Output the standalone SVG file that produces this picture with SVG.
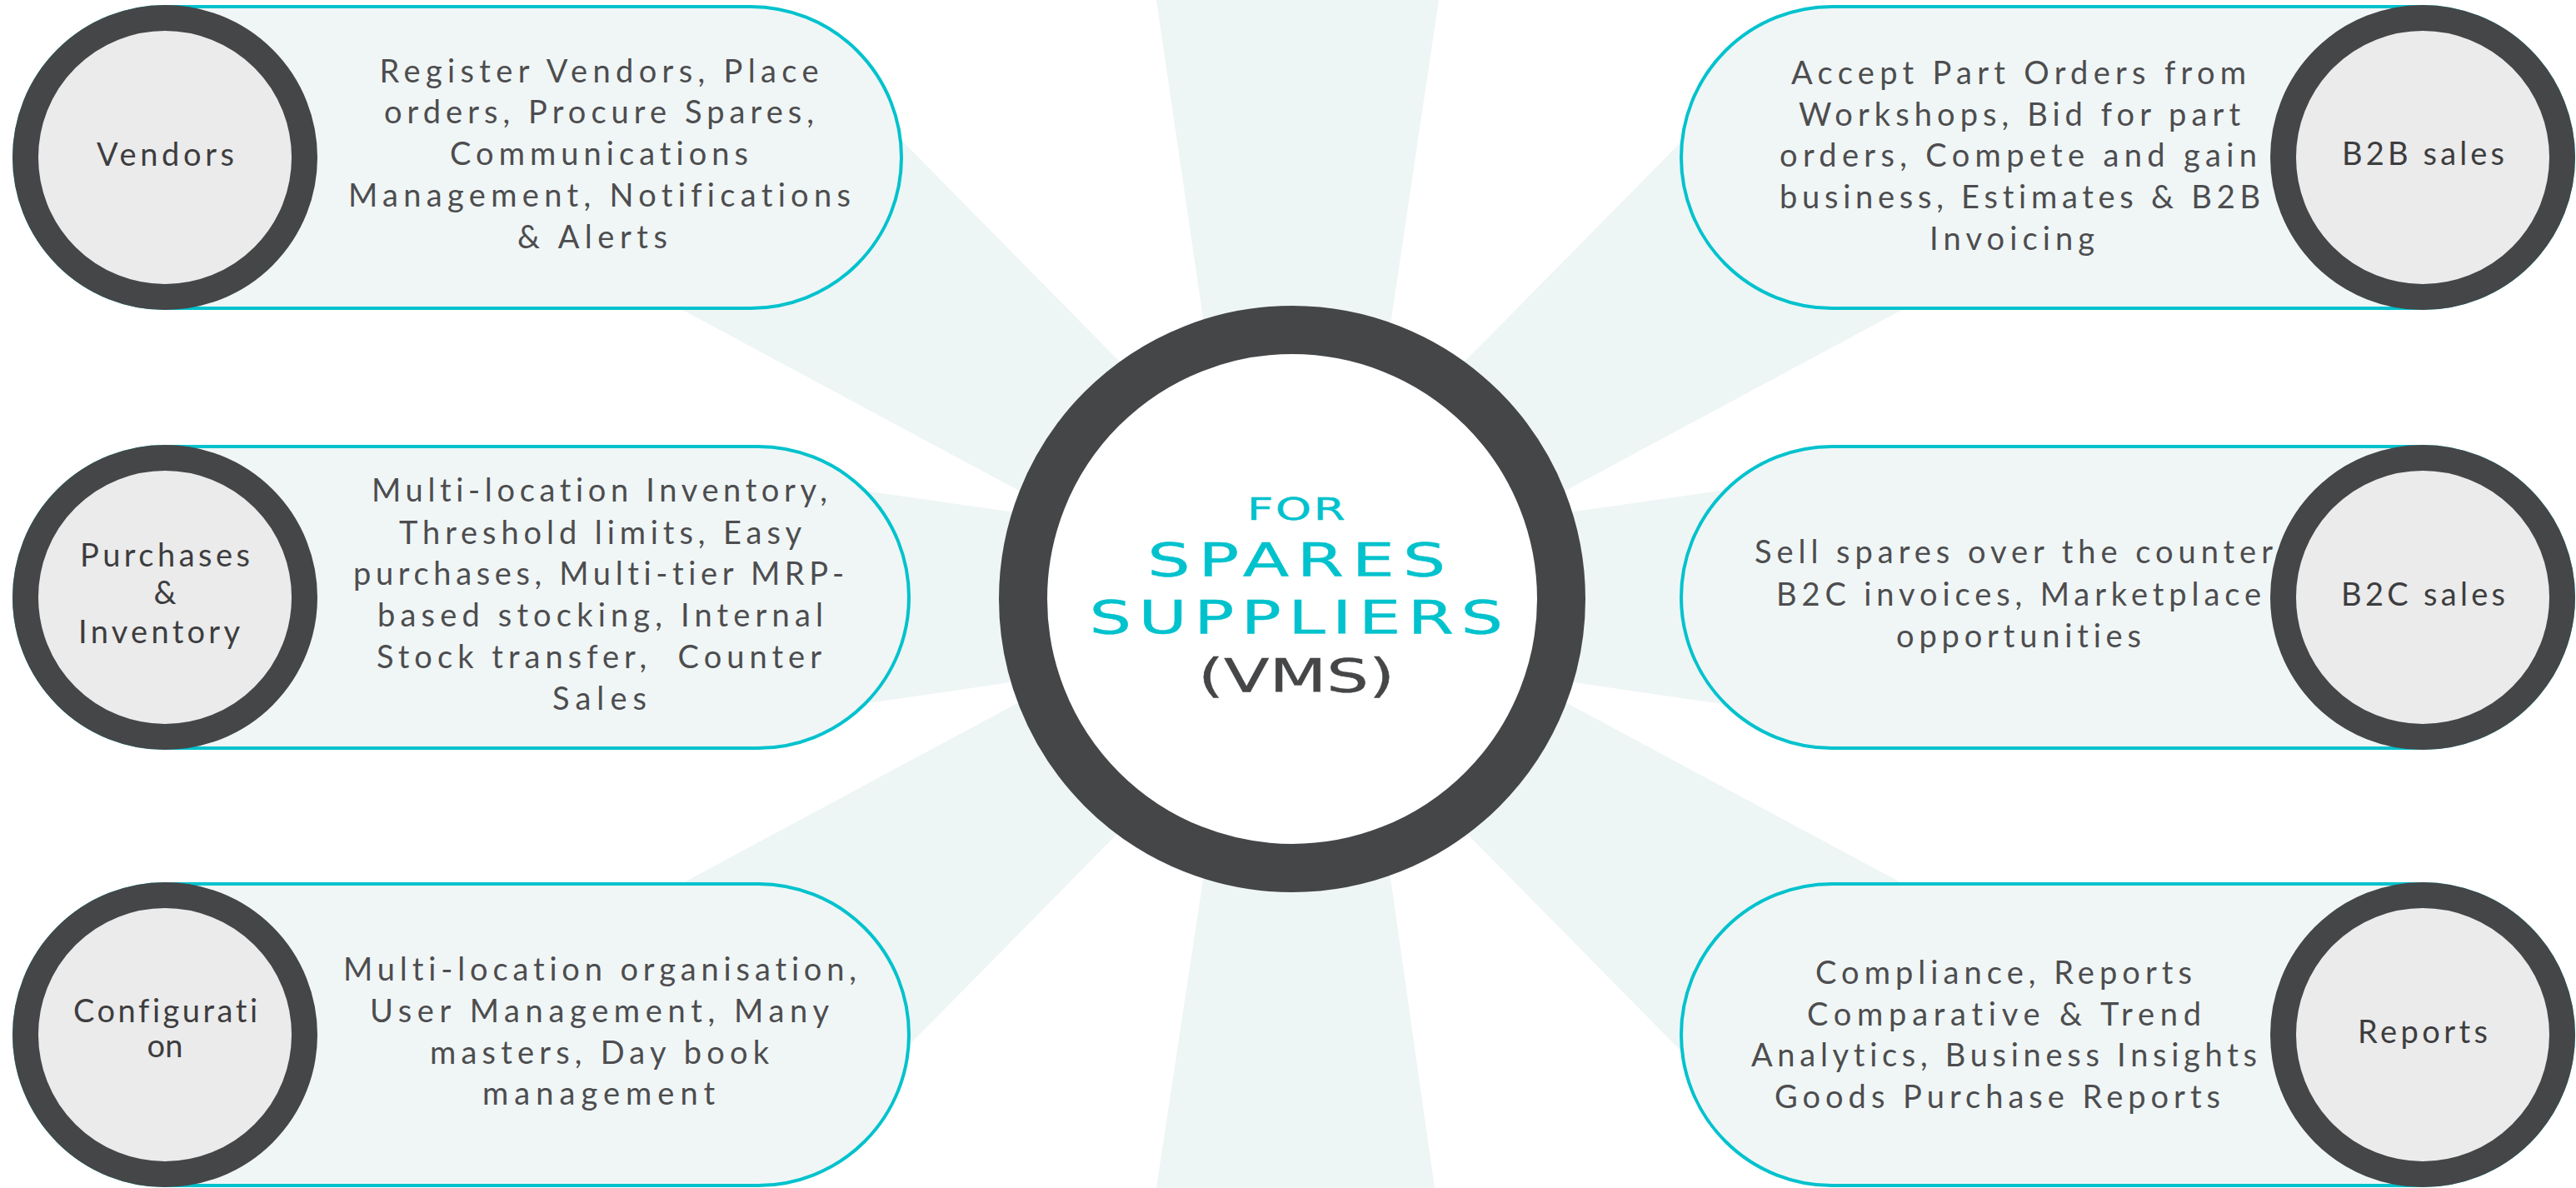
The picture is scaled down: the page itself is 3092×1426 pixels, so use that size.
<svg xmlns="http://www.w3.org/2000/svg" width="3092" height="1426" viewBox="0 0 3092 1426">
<style>
.ray{fill:#eef5f5}
.pill{fill:#f0f6f6;stroke:#00c2cd;stroke-width:4}
.ring{fill:#ebebeb;stroke:#454648;stroke-width:31}
.hub{fill:#ffffff;stroke:#454648;stroke-width:58}
.body,.label{font-family:Lato,"Open Sans","Liberation Sans",sans-serif;font-size:38px;font-variant-ligatures:none;font-feature-settings:"liga" 0,"clig" 0}
.body{fill:#4d4d4f}
.label{fill:#3d3d3f}
.title{font-family:"DejaVu Sans","Liberation Sans",sans-serif;fill:#00c2cd;stroke:#00c2cd;stroke-width:0.4}
.dark{fill:#454648;stroke:#454648}
</style>
<rect width="3092" height="1426" fill="#ffffff"/>
<g id="connectors">
<polygon class="ray" points="1388,0 1727,0 1660,450 1454,450"/>
<polygon class="ray" points="1454,990 1660,990 1722,1426 1388,1426"/>
<polygon class="ray" points="1000,85 1400,491 1400,684 700,308"/>
<polygon class="ray" points="800,555 1400,641 1400,792 800,879"/>
<polygon class="ray" points="1000,1347 1400,941 1400,748 700,1124"/>
<polygon class="ray" points="2102,85 1702,491 1702,684 2402,308"/>
<polygon class="ray" points="2302,555 1702,641 1702,792 2302,879"/>
<polygon class="ray" points="2102,1347 1702,941 1702,748 2402,1124"/>
</g>
<g id="vendors">
<rect class="pill" x="17" y="8" width="1065" height="362" rx="181"/>
<text class="body" x="455.5" y="99" textLength="527">Register Vendors, Place</text>
<text class="body" x="461" y="148" textLength="516">orders, Procure Spares,</text>
<text class="body" x="540" y="198" textLength="358">Communications</text>
<text class="body" x="418" y="248" textLength="603">Management, Notifications</text>
<text class="body" x="621" y="298" textLength="180">&amp; Alerts</text>
<circle class="ring" cx="198" cy="189" r="167.5"/>
<text class="label" x="116" y="199" textLength="165">Vendors</text>
</g>
<g id="purchases">
<rect class="pill" x="17" y="536" width="1074" height="362" rx="181"/>
<text class="body" x="446" y="602" textLength="547">Multi-location Inventory,</text>
<text class="body" x="479" y="653" textLength="483">Threshold limits, Easy</text>
<text class="body" x="424" y="702" textLength="589">purchases, Multi-tier MRP-</text>
<text class="body" x="453" y="752" textLength="535">based stocking, Internal</text>
<text class="body" x="452" y="802" textLength="534" xml:space="preserve">Stock transfer,  Counter</text>
<text class="body" x="663" y="852" textLength="113">Sales</text>
<circle class="ring" cx="198" cy="717" r="167.5"/>
<text class="label" x="96" y="680" textLength="204">Purchases</text>
<text class="label" x="198" y="725" text-anchor="middle">&amp;</text>
<text class="label" x="94" y="772" textLength="194">Inventory</text>
</g>
<g id="configuration">
<rect class="pill" x="17" y="1061" width="1074" height="362" rx="181"/>
<text class="body" x="412" y="1177" textLength="616">Multi-location organisation,</text>
<text class="body" x="444" y="1227" textLength="551">User Management, Many</text>
<text class="body" x="516" y="1277" textLength="407">masters, Day book</text>
<text class="body" x="579" y="1326" textLength="279">management</text>
<circle class="ring" cx="198" cy="1242" r="167.5"/>
<text class="label" x="88" y="1227" textLength="221">Configurati</text>
<text class="label" x="198" y="1269" text-anchor="middle">on</text>
</g>
<g id="b2b-sales">
<rect class="pill" x="2018" y="8" width="1071" height="362" rx="181"/>
<text class="body" x="2150" y="101" textLength="546">Accept Part Orders from</text>
<text class="body" x="2159" y="151" textLength="530">Workshops, Bid for part</text>
<text class="body" x="2136" y="200" textLength="573">orders, Compete and gain</text>
<text class="body" x="2136" y="250" textLength="577">business, Estimates &amp; B2B</text>
<text class="body" x="2316" y="300" textLength="198">Invoicing</text>
<circle class="ring" cx="2908" cy="189" r="167.5"/>
<text class="label" x="2811" y="198" textLength="195">B2B sales</text>
</g>
<g id="b2c-sales">
<rect class="pill" x="2018" y="536" width="1071" height="362" rx="181"/>
<text class="body" x="2106" y="676" textLength="622">Sell spares over the counter</text>
<text class="body" x="2132" y="727" textLength="582">B2C invoices, Marketplace</text>
<text class="body" x="2276" y="777" textLength="294">opportunities</text>
<circle class="ring" cx="2908" cy="717" r="167.5"/>
<text class="label" x="2810" y="727" textLength="197">B2C sales</text>
</g>
<g id="reports">
<rect class="pill" x="2018" y="1061" width="1071" height="362" rx="181"/>
<text class="body" x="2179" y="1181" textLength="452">Compliance, Reports</text>
<text class="body" x="2169" y="1231" textLength="473">Comparative &amp; Trend</text>
<text class="body" x="2102" y="1280" textLength="607">Analytics, Business Insights</text>
<text class="body" x="2130" y="1330" textLength="535">Goods Purchase Reports</text>
<circle class="ring" cx="2908" cy="1242" r="167.5"/>
<text class="label" x="2830" y="1252" textLength="156">Reports</text>
</g>
<g id="hub">
<circle class="hub" cx="1551" cy="719" r="323"/>
<text class="title" transform="translate(1557,623.5) scale(1.45,1)" text-anchor="middle" font-size="38" letter-spacing="1.6">FOR</text>
<text class="title" transform="translate(1561,691) scale(1.45,1)" text-anchor="middle" font-size="56" letter-spacing="6.6">SPARES</text>
<text class="title" transform="translate(1560,760) scale(1.45,1)" text-anchor="middle" font-size="55" letter-spacing="5.8">SUPPLIERS</text>
<text class="title dark" transform="translate(1556,830) scale(1.45,1)" text-anchor="middle" font-size="55" letter-spacing="0">(VMS)</text>
</g>
</svg>
